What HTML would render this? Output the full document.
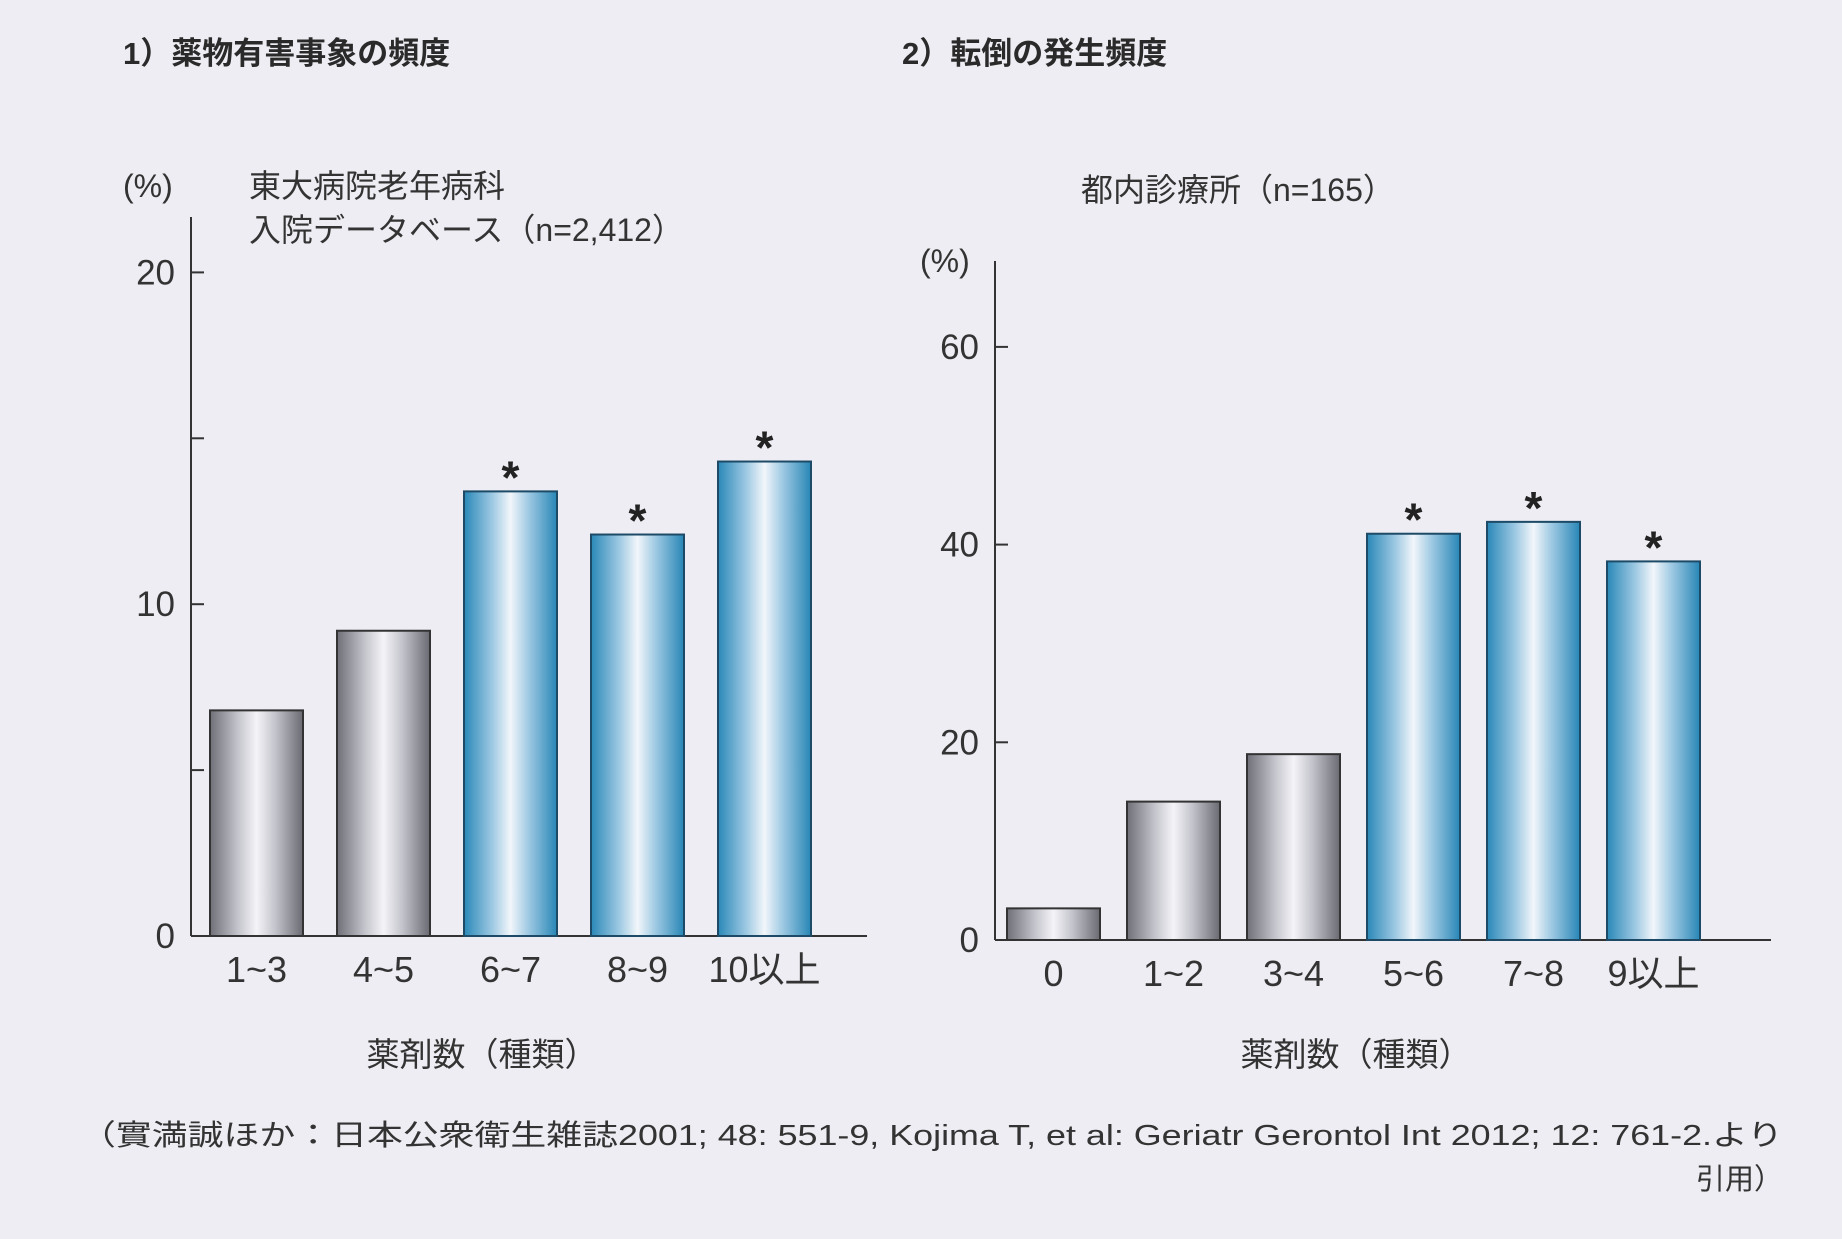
<!DOCTYPE html>
<html><head><meta charset="utf-8">
<style>
html,body{margin:0;padding:0;background:#ededf3;}
svg{display:block;font-family:"Liberation Sans","Noto Sans CJK JP",sans-serif;}
</style></head>
<body>
<svg id="chart" width="1842" height="1239" viewBox="0 0 1842 1239" xmlns="http://www.w3.org/2000/svg">
<defs>
<linearGradient id="gGray" x1="0" x2="1" y1="0" y2="0">
<stop offset="0" stop-color="#6f6f78"/><stop offset="0.3" stop-color="#c4c4cc"/><stop offset="0.5" stop-color="#f4f4f8"/><stop offset="0.7" stop-color="#c4c4cc"/><stop offset="1" stop-color="#6a6a72"/>
</linearGradient>
<linearGradient id="gBlue" x1="0" x2="1" y1="0" y2="0">
<stop offset="0" stop-color="#2a88b8"/><stop offset="0.3" stop-color="#9cc8e2"/><stop offset="0.5" stop-color="#f2f6fa"/><stop offset="0.7" stop-color="#9cc8e2"/><stop offset="1" stop-color="#2886b6"/>
</linearGradient>
</defs>
<rect x="0" y="0" width="1842" height="1239" fill="#ededf3"/>
<text x="123" y="64" font-size="31" font-weight="bold" fill="#2a2a2a">1）薬物有害事象の頻度</text>
<text x="902" y="64" font-size="31" font-weight="bold" fill="#2a2a2a">2）転倒の発生頻度</text>
<text x="123" y="197" font-size="32" fill="#333">(%)</text>
<text x="249" y="197" font-size="32" fill="#333">東大病院老年病科</text>
<text x="249" y="241" font-size="32" fill="#333">入院データベース（n=2,412）</text>
<text x="1081" y="201" font-size="32" fill="#333">都内診療所（n=165）</text>
<text x="920" y="272" font-size="32" fill="#333">(%)</text>
<text x="482" y="1066" font-size="33" text-anchor="middle" fill="#333">薬剤数（種類）</text>
<text x="1356" y="1066" font-size="33" text-anchor="middle" fill="#333">薬剤数（種類）</text>
<text x="80" y="1145" font-size="29" fill="#333" textLength="1703" lengthAdjust="spacingAndGlyphs">（實満誠ほか：日本公衆衛生雑誌2001; 48: 551-9, Kojima T, et al: Geriatr Gerontol Int 2012; 12: 761-2.より</text>
<text x="1783" y="1189" font-size="29" text-anchor="end" fill="#333">引用）</text>
<g id="c1"></g>
<g id="c2"></g>
</svg>
<script>
const cats1 = ["1~3","4~5","6~7","8~9","10以上"];
const vals1 = [6.8, 9.2, 13.4, 12.1, 14.3];
const sig1 = [false, false, true, true, true];
const ticks1 = [0, 10, 20];
const minor1 = [5, 15];
const cats2 = ["0","1~2","3~4","5~6","7~8","9以上"];
const vals2 = [3.2, 14.0, 18.8, 41.1, 42.3, 38.3];
const sig2 = [false, false, false, true, true, true];
const ticks2 = [0, 20, 40, 60];
const NS = "http://www.w3.org/2000/svg";
function mk(tag, attrs, parent){const e=document.createElementNS(NS,tag);for(const k in attrs)e.setAttribute(k,attrs[k]);parent.appendChild(e);return e;}
function draw(g, cfg){
  const {cats, vals, sig, ticks, minor, ax, y0, pxPer, x0, step, bw, axEnd, axTopY, pre} = cfg;
  const y = v => y0 - v*pxPer;
  const a1 = mk("line",{x1:ax,y1:axTopY,x2:ax,y2:y0,stroke:"#333","stroke-width":2},g);
  
  
  const a2 = mk("line",{x1:ax,y1:y0,x2:axEnd,y2:y0,stroke:"#333","stroke-width":2},g);
  
  
  ticks.concat(minor).forEach(t=>{
    const l = mk("line",{x1:ax,y1:y(t),x2:ax+13,y2:y(t),stroke:"#333","stroke-width":2},g);
    
    
  });
  ticks.forEach(t=>{
    const tx = mk("text",{x:ax-16,y:y(t)+12,"font-size":35,"text-anchor":"end",fill:"#333"},g);
    tx.textContent = t;
    
    
  });
  cats.forEach((c,i)=>{
    const bx = x0 + i*step;
    const r = mk("rect",{x:bx,y:y(vals[i]),width:bw,height:vals[i]*pxPer,fill:sig[i]?"url(#gBlue)":"url(#gGray)",stroke:sig[i]?"#1d4a66":"#333","stroke-width":2},g);
    
    
    const lb = mk("text",{x:bx+bw/2,y:y0+46,"font-size":36,"text-anchor":"middle",fill:"#333"},g);
    lb.textContent = c;
    
    
    if(sig[i]){
      const s = mk("text",{x:bx+bw/2,y:y(vals[i])+2,"font-size":46,"font-weight":"bold","text-anchor":"middle",fill:"#222"},g);
      s.textContent = "*";
      
      
    }
  });
}
draw(document.getElementById("c1"),{cats:cats1,vals:vals1,sig:sig1,ticks:ticks1,minor:minor1,ax:191,y0:936,pxPer:33.18,x0:210,step:127,bw:93,axEnd:867,axTopY:217,pre:"chart1"});
draw(document.getElementById("c2"),{cats:cats2,vals:vals2,sig:sig2,ticks:ticks2,minor:[],ax:995,y0:940,pxPer:9.885,x0:1007,step:120,bw:93,axEnd:1771,axTopY:261,pre:"chart2"});
</script>
</body></html>
